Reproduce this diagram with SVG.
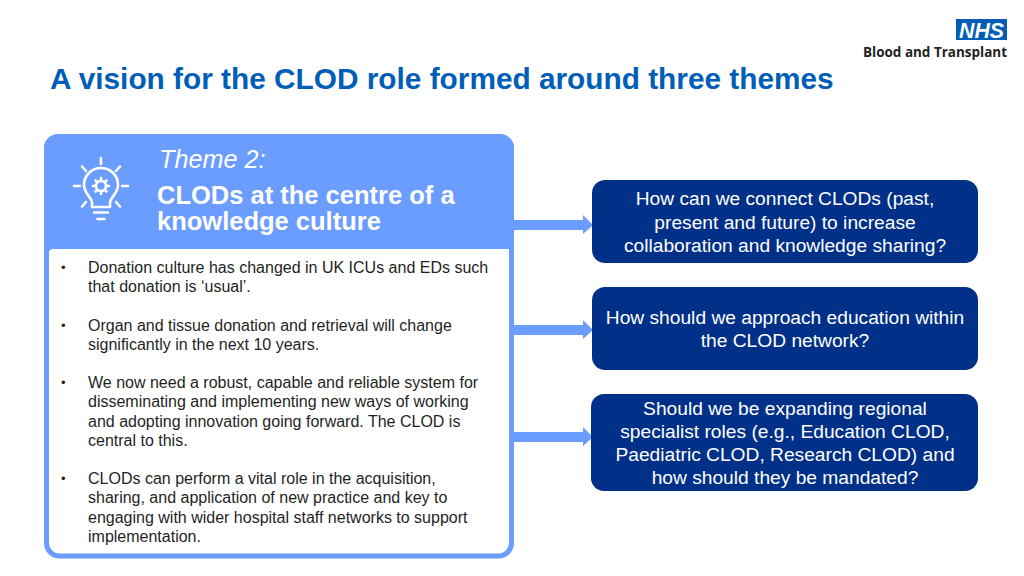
<svg xmlns="http://www.w3.org/2000/svg" width="1024" height="576" viewBox="0 0 1024 576">
<style>
text{font-family:"Liberation Sans",Arial,sans-serif}
.b{font-size:16px;fill:#1f1f1f}
.d{font-size:13px;fill:#1f1f1f}
.q{font-size:19.2px;fill:#fff;text-anchor:middle}
.box{fill:#003087}
.ic{fill:none;stroke:#fff;stroke-width:2.6;stroke-linecap:round;stroke-linejoin:round}
.conn{fill:#6b9cff}
</style>
<rect width="1024" height="576" fill="#fff"/>
<g id="logo">
<rect x="956" y="19" width="51" height="21" fill="#005eb8"/>
<text x="981.500" y="37.500" font-size="21.500" font-weight="700" font-style="italic" fill="#fff" text-anchor="middle" textLength="45" lengthAdjust="spacingAndGlyphs">NHS</text>
<text x="1007" y="57" font-size="13.500" font-weight="700" fill="#222" text-anchor="end" style="font-family:'Open Sans','Liberation Sans',sans-serif" textLength="144" lengthAdjust="spacingAndGlyphs">Blood and Transplant</text>
</g>
<text id="title" x="50" y="89" font-size="29.800" font-weight="700" fill="#005eb8">A vision for the CLOD role formed around three themes</text>
<g id="theme">
<rect x="46.500" y="136.500" width="465" height="419.500" rx="13" fill="#fff" stroke="#6b9cff" stroke-width="5"/>
<path d="M44 254V148a14 14 0 0 1 14-14H500a14 14 0 0 1 14 14V243a6 6 0 0 1-6 6H52z" fill="#6b9cff"/>
<g id="bulb" class="ic">
<path d="M92 207L92 202C91 197 84 193 84 185C84 175 92 168 101 168C110 168 118 175 118 185C118 193 111 197 110 202L110 207Z"/>
<circle cx="101" cy="186" r="5"/>
<path d="M101 178v2M101 192v2M93 186h2M107 186h2M95.500 180.500l1.500 1.500M105 190l1.500 1.500M106.500 180.500l-1.500 1.500M97 190l-1.500 1.500"/>
<path d="M94 212.500h14M97.500 219h7M101 164v-6M86 171l-4-4.500M116 171l4-4.500M86 202l-4 4.500M116 202l4 4.500M74 186h6M122 186h6"/>
</g>
<text x="159" y="168" font-size="25.200" font-style="italic" fill="#fff">Theme 2:</text>
<text x="157" y="204" font-size="25.500" font-weight="700" fill="#fff">CLODs at the centre of a</text>
<text x="157" y="230" font-size="25.500" font-weight="700" fill="#fff">knowledge culture</text>
<g class="b">
<text class="d" x="61" y="272">•</text><text x="88" y="273">Donation culture has changed in UK ICUs and EDs such</text>
<text x="88" y="292">that donation is ‘usual’.</text>
<text class="d" x="61" y="330">•</text><text x="88" y="331">Organ and tissue donation and retrieval will change</text>
<text x="88" y="350">significantly in the next 10 years.</text>
<text class="d" x="61" y="387">•</text><text x="88" y="388">We now need a robust, capable and reliable system for</text>
<text x="88" y="407">disseminating and implementing new ways of working</text>
<text x="88" y="427">and adopting innovation going forward. The CLOD is</text>
<text x="88" y="446">central to this.</text>
<text class="d" x="61" y="483">•</text><text x="88" y="484">CLODs can perform a vital role in the acquisition,</text>
<text x="88" y="503">sharing, and application of new practice and key to</text>
<text x="88" y="523">engaging with wider hospital staff networks to support</text>
<text x="88" y="542">implementation.</text>
</g>
</g>
<g id="connectors">
<path class="conn" d="M514 220H583V215L593 225L583 234V230H514Z"/>
<path class="conn" d="M514 325H583V320L593 330L583 339V335H514Z"/>
<path class="conn" d="M514 432H583V427L593 437L583 446V442H514Z"/>
</g>
<g id="q1">
<rect class="box" x="592" y="180" width="386" height="83" rx="13"/>
<text class="q" x="785" y="205">How can we connect CLODs (past,</text>
<text class="q" x="785" y="229">present and future) to increase</text>
<text class="q" x="785" y="252">collaboration and knowledge sharing?</text>
</g>
<g id="q2">
<rect class="box" x="592" y="287" width="386" height="83" rx="13"/>
<text class="q" x="785" y="324">How should we approach education within</text>
<text class="q" x="785" y="347">the CLOD network?</text>
</g>
<g id="q3">
<rect class="box" x="591" y="394" width="387" height="97" rx="13"/>
<text class="q" x="785" y="415">Should we be expanding regional</text>
<text class="q" x="785" y="438">specialist roles (e.g., Education CLOD,</text>
<text class="q" x="785" y="461">Paediatric CLOD, Research CLOD) and</text>
<text class="q" x="785" y="484">how should they be mandated?</text>
</g>
</svg>
